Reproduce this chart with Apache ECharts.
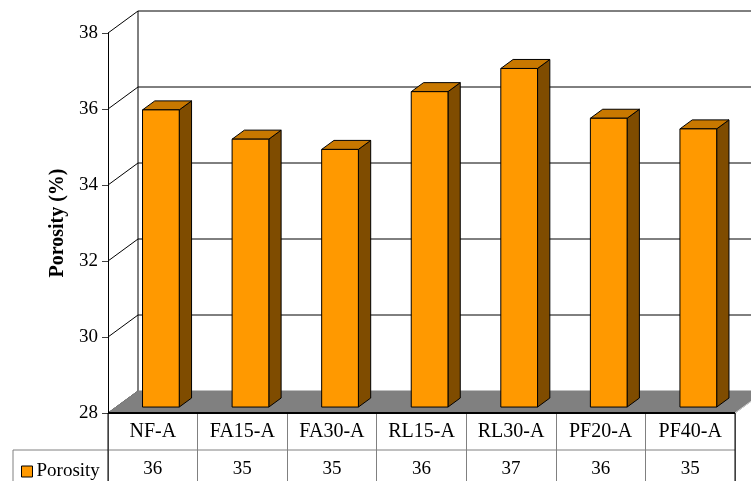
<!DOCTYPE html>
<html>
<head>
<meta charset="utf-8">
<title>Porosity</title>
<script src="https://cdn.jsdelivr.net/npm/echarts@6/dist/echarts.min.js"></script>
<style>
  html, body { margin: 0; padding: 0; background: #fff; }
  #main { width: 751px; height: 481px; }
</style>
</head>
<body>
<div id="main"></div>
<script>
var categories = ['NF-A', 'FA15-A', 'FA30-A', 'RL15-A', 'RL30-A', 'PF20-A', 'PF40-A'];
var porosity = [35.82, 35.05, 34.78, 36.30, 36.91, 35.60, 35.32];
var yTicks = [28, 30, 32, 34, 36, 38];

(function () {
    var serif = "'Liberation Serif', 'Times New Roman', serif";
    // 3D depth of the plot box (pixels)
    var DX = 30, DY = -22;
    // bar front/back position inside the depth
    var F1 = 0.27, F2 = 0.68;

    var myChart = echarts.init(document.querySelector('#main'));

    // table value row = rounded values
    var valueLabels = porosity.map(function (v) { return Math.round(v).toString(); });

    function line(x1, y1, x2, y2, color, w) {
        return {
            type: 'line',
            shape: { x1: x1, y1: y1, x2: x2, y2: y2 },
            style: { stroke: color, lineWidth: w || 1 }
        };
    }

    // walls, floor, gridlines and table borders
    function renderFrame(params, api) {
        var cs = params.coordSys;
        var x0 = cs.x, x1 = cs.x + cs.width;
        var yB = api.coord([0, yTicks[0]])[1];
        var yT = api.coord([0, yTicks[yTicks.length - 1]])[1];
        var rowH = 37;
        var bottom = api.getHeight();
        var children = [];
        // back wall border
        children.push(line(x0 + DX, yT + DY, x0 + DX, yB + DY, '#000', 1));
        // gridlines on back wall + diagonals on side wall
        yTicks.forEach(function (t) {
            var y = api.coord([0, t])[1];
            if (t !== yTicks[0]) {
                children.push(line(x0 + DX, y + DY, x1 + DX, y + DY, '#000', 1));
            }
            children.push(line(x0, y, x0 + DX, y + DY, '#000', 1));
        });
        // floor
        children.push({
            type: 'polygon',
            shape: { points: [[x0, yB], [x1, yB], [x1 + DX, yB + DY], [x0 + DX, yB + DY]] },
            style: { fill: '#808080', stroke: '#808080', lineWidth: 1 }
        });
        children.push(line(x1, yB, x1 + DX, yB + DY, '#d0d0d0', 1));
        // front edge of the floor
        children.push(line(x0, yB, x1, yB, '#000', 2));
        // table borders
        children.push(line(13, yB + rowH, x1, yB + rowH, '#808080', 1));
        children.push(line(13, yB + rowH, 13, bottom, '#808080', 1));
        children.push(line(x0, yB, x0, bottom, '#000', 1));
        children.push(line(x1, yB, x1, bottom, '#000', 1));
        return { type: 'group', children: children };
    }

    // 3D bar: front, top and side faces
    function renderBar(params, api) {
        var i = api.value(0);
        var base = api.coord([i, yTicks[0]]);
        var top = api.coord([i, api.value(1)]);
        var bw = api.size([1, 0])[0] * 0.41;
        var l = base[0] - bw / 2, r = base[0] + bw / 2;
        var fx = F1 * DX, fy = F1 * DY, bx = F2 * DX, by = F2 * DY;
        var stroke = { stroke: '#000', lineWidth: 1 };
        return {
            type: 'group',
            children: [
                {
                    type: 'polygon',
                    shape: { points: [[r + fx, top[1] + fy], [r + bx, top[1] + by], [r + bx, base[1] + by], [r + fx, base[1] + fy]] },
                    style: echarts.util.extend({ fill: '#7F4C00' }, stroke)
                },
                {
                    type: 'polygon',
                    shape: { points: [[l + fx, top[1] + fy], [r + fx, top[1] + fy], [r + bx, top[1] + by], [l + bx, top[1] + by]] },
                    style: echarts.util.extend({ fill: '#C87800' }, stroke)
                },
                {
                    type: 'rect',
                    shape: { x: l + fx, y: top[1] + fy, width: bw, height: base[1] - top[1] },
                    style: echarts.util.extend({ fill: '#FF9900' }, stroke)
                }
            ]
        };
    }

    var option = {
        animation: false,
        backgroundColor: '#fff',
        grid: { left: 108, right: 16, top: 33, bottom: 68, containLabel: false },
        legend: {
            data: ['Porosity'],
            left: 16,
            top: 457,
            icon: 'rect',
            itemWidth: 11,
            itemHeight: 11,
            itemGap: 6,
            itemStyle: { color: '#FF9900', borderColor: '#000', borderWidth: 1 },
            textStyle: { fontFamily: serif, fontSize: 19, color: '#000', padding: [0, 0, 0, -1] }
        },
        xAxis: [
            {
                type: 'category',
                data: categories,
                axisLine: { show: false },
                axisTick: { show: true, alignWithLabel: false, length: 70, lineStyle: { color: '#808080' } },
                axisLabel: { margin: 9, fontFamily: serif, fontSize: 20, color: '#000' },
                splitLine: { show: false }
            },
            {
                type: 'category',
                data: valueLabels,
                position: 'bottom',
                axisLine: { show: false },
                axisTick: { show: false },
                axisLabel: { margin: 47, fontFamily: serif, fontSize: 19, color: '#000' },
                splitLine: { show: false }
            }
        ],
        yAxis: {
            type: 'value',
            min: 28,
            max: 38,
            interval: 2,
            name: 'Porosity (%)',
            nameLocation: 'middle',
            nameGap: 40,
            nameTextStyle: { fontFamily: serif, fontSize: 20, fontWeight: 'bold', color: '#000' },
            axisLine: { show: true, lineStyle: { color: '#000', width: 1 } },
            axisTick: { show: true, length: 6, lineStyle: { color: '#404040' } },
            axisLabel: { margin: 10, fontFamily: serif, fontSize: 19, color: '#000' },
            splitLine: { show: false }
        },
        series: [
            {
                name: 'frame',
                type: 'custom',
                silent: true,
                z: 1,
                data: [[0]],
                renderItem: renderFrame
            },
            {
                name: 'Porosity',
                type: 'custom',
                z: 3,
                itemStyle: { color: '#FF9900' },
                data: porosity.map(function (v, i) { return [i, v]; }),
                encode: { x: 0, y: 1 },
                renderItem: renderBar
            }
        ]
    };

    myChart.setOption(option);
    window.addEventListener('resize', function () {
        myChart.resize();
    });
})();
</script>
</body>
</html>
